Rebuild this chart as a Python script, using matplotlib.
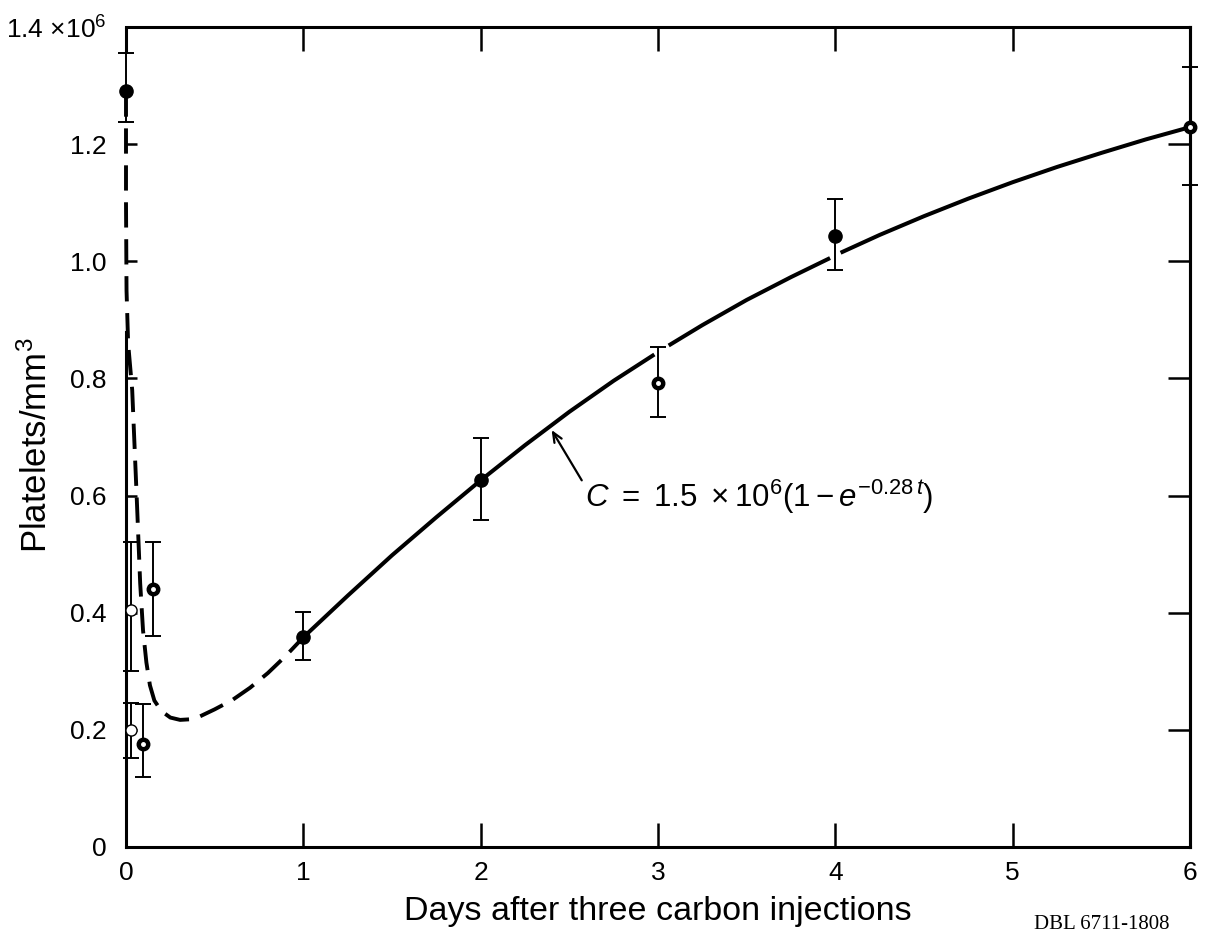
import matplotlib
matplotlib.use("Agg")
import matplotlib.pyplot as plt
import numpy as np

plt.rcParams.update({
    "font.family": "Liberation Sans",
    "mathtext.fontset": "custom",
    "mathtext.rm": "Liberation Sans",
    "mathtext.it": "Liberation Sans:italic",
    "mathtext.sf": "Liberation Sans",
    "mathtext.bf": "Liberation Sans:bold",
})

# measured platelet counts (units of 10^6 per mm^3), days after injections
DAYS = [0.0, 0.03, 0.03, 0.095, 0.15, 1.0, 2.0, 3.0, 4.0, 6.0]
COUNT = [1.29, 0.405, 0.20, 0.176, 0.44, 0.358, 0.626, 0.792, 1.044, 1.229]
ERR_LO = [1.237, 0.30, 0.152, 0.12, 0.36, 0.32, 0.558, 0.734, 0.985, 1.130]
ERR_HI = [1.356, 0.52, 0.246, 0.244, 0.52, 0.402, 0.698, 0.853, 1.106, 1.331]
STYLE = ["filled", "open", "open", "dot", "dot", "filled", "filled", "dot", "filled", "dot"]

# hand-drawn curve (dashed early part, solid fit part)
DASH_X = [0.0, 0.0, 0.003, 0.012, 0.035, 0.06, 0.08, 0.096, 0.115, 0.135, 0.16,
          0.2, 0.25, 0.305, 0.36, 0.417, 0.5, 0.6, 0.7, 0.8, 0.9, 1.0]
DASH_Y = [1.29, 1.10, 0.95, 0.86, 0.78, 0.60, 0.45, 0.37, 0.315, 0.276, 0.25,
          0.232, 0.221, 0.217, 0.218, 0.223, 0.235, 0.251, 0.272, 0.297, 0.326, 0.358]
SOLID_X = [1.0, 1.25, 1.5, 1.75, 2.0, 2.25, 2.5, 2.75, 2.97, np.nan,
           3.07, 3.25, 3.5, 3.75, 3.96, np.nan,
           4.04, 4.25, 4.5, 4.75, 5.0, 5.25, 5.5, 5.75, 6.0]
SOLID_Y = [0.358, 0.429, 0.498, 0.563, 0.626, 0.686, 0.743, 0.796, 0.839, np.nan,
           0.858, 0.891, 0.934, 0.973, 1.004, np.nan,
           1.016, 1.045, 1.077, 1.107, 1.135, 1.161, 1.185, 1.208, 1.229]

X_TICKS = [0, 1, 2, 3, 4, 5, 6]
Y_TICKS = [0, 0.2, 0.4, 0.6, 0.8, 1.0, 1.2, 1.4]
Y_LABELS = ["0", "0.2", "0.4", "0.6", "0.8", "1.0", "1.2",
            r"1.4 $\mathregular{\times}$10$^{6}$"]
FIT_LABEL = r"$\mathit{C\ =\ 1.5\ \times 10^{6}(1 - e^{-0.28\,t})}$"

fig = plt.figure(figsize=(12.05, 9.36), dpi=100)
ax = fig.add_axes([126 / 1205, 89 / 936, 1064 / 1205, 820 / 936])

ax.plot(DASH_X, DASH_Y, color="black", lw=2.8, ls=(0, (6.5, 3)),
        solid_capstyle="butt", clip_on=False, zorder=2)
ax.plot(SOLID_X, SOLID_Y, color="black", lw=2.9, clip_on=False, zorder=2)

ax.errorbar(DAYS, COUNT, yerr=[np.subtract(COUNT, ERR_LO), np.subtract(ERR_HI, COUNT)],
            fmt="none", ecolor="black", elinewidth=1.4, capsize=6, capthick=1.4,
            clip_on=False, zorder=3)

d = np.array(DAYS)
c = np.array(COUNT)
s = np.array(STYLE)
ax.plot(d[s == "filled"], c[s == "filled"], "o", ms=9.5, mfc="black", mec="black",
        clip_on=False, zorder=4)
ax.plot(d[s == "dot"], c[s == "dot"], "o", ms=9, mfc="black", mec="black",
        clip_on=False, zorder=4)
ax.plot(d[s == "dot"], c[s == "dot"], "o", ms=2.5, mfc="white", mec="white",
        clip_on=False, zorder=5)
ax.plot(d[s == "open"], c[s == "open"], "o", ms=8, mfc="white", mec="black",
        mew=1.0, clip_on=False, zorder=4)

ax.set_xlim(0, 6)
ax.set_ylim(0, 1.4)
for sp in ax.spines.values():
    sp.set_linewidth(2.2)
# left spine is covered by the dashed curve near the top in the original
ax.spines["left"].set_bounds(0, 0.88)
ax.vlines(0, ERR_HI[0], Y_TICKS[-1], color="black", lw=2.2, clip_on=False)

ax.set_xticks(X_TICKS)
ax.set_xticklabels([str(t) for t in X_TICKS])
ax.tick_params(axis="x", direction="in", length=17, width=1.8, top=True,
               labelsize=19, pad=10)
ax.set_yticks(Y_TICKS)
ax.set_yticklabels(Y_LABELS)
ax.tick_params(axis="y", direction="in", length=8, width=1.8, labelsize=19, pad=14)

sec = ax.secondary_yaxis("right")
sec.set_yticks(Y_TICKS)
sec.tick_params(direction="in", length=16, width=1.8, labelright=False)
sec.spines["right"].set_linewidth(2.2)

ax.set_xlabel("Days after three carbon injections", fontsize=24.5, labelpad=8)
ax.set_ylabel("Platelets/mm$^3$", fontsize=25)
ax.yaxis.set_label_coords(-0.068, 0.49)

ax.annotate("", xy=(2.40, 0.712), xytext=(2.57, 0.626),
            arrowprops=dict(arrowstyle="->,head_length=0.7,head_width=0.3",
                            lw=1.6, color="black", shrinkA=0, shrinkB=0))
ax.text(2.59, 0.597, FIT_LABEL, fontsize=22.5, ha="left", va="center")

fig.text(1034 / 1205, 2 / 936, "DBL 6711-1808", family="Liberation Serif",
         fontsize=15, ha="left", va="bottom")

fig.savefig("out.png", dpi=100)
